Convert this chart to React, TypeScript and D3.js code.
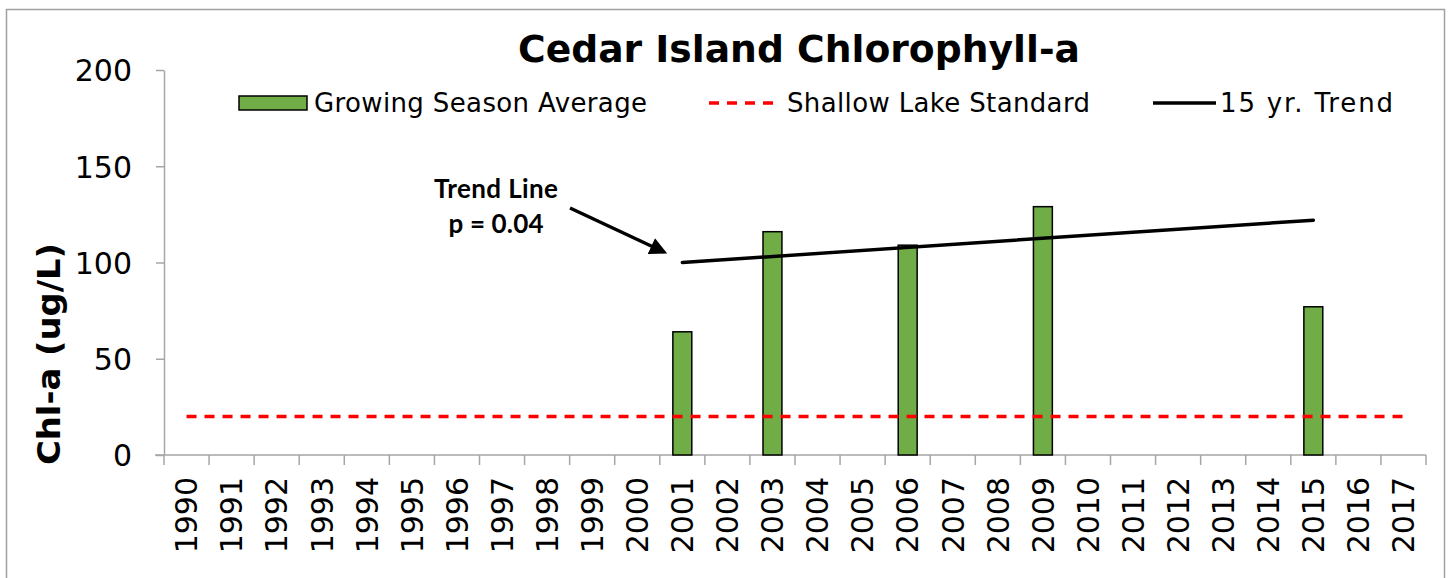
import React, { useEffect, useRef } from "react";
import * as d3 from "d3";

const years = [
  "1990", "1991", "1992", "1993", "1994", "1995", "1996", "1997", "1998", "1999",
  "2000", "2001", "2002", "2003", "2004", "2005", "2006", "2007", "2008", "2009",
  "2010", "2011", "2012", "2013", "2014", "2015", "2016", "2017",
];
const barYears = ["2001", "2003", "2006", "2009", "2015"];
const barValues = [64, 116, 109, 129, 77];
const standardValue = 20;
const trendYears = ["2001", "2015"];
const trendValues = [100, 122];
const yTicks = [0, 50, 100, 150, 200];

const W = 1452, H = 578;
const AXIS = "#a6a6a6";
const VERDANA = "'DejaVu Sans', Verdana, sans-serif";

const App = () => {
  const ref = useRef<SVGSVGElement | null>(null);

  useEffect(() => {
    const svg = d3.select(ref.current);
    svg.selectAll("*").remove();

    var x = d3.scaleBand<string>().domain(years).range([164, 1426]).padding(0);
    var y = d3.scaleLinear().domain([0, 200]).range([455, 70]);
    const cx = (d: string) => (x(d) as number) + x.bandwidth() / 2;

    // chart frame
    svg.append("rect").attr("x", 6.5).attr("y", 9.5).attr("width", 1438).attr("height", 580)
      .attr("fill", "white").attr("stroke", "#a0a0a0").attr("stroke-width", 1.5);

    // title
    svg.append("text").attr("x", 799).attr("y", 62).attr("text-anchor", "middle")
      .attr("textLength", 562).attr("lengthAdjust", "spacingAndGlyphs")
      .style("font-family", VERDANA).style("font-weight", "bold").style("font-size", "38px")
      .text("Cedar Island Chlorophyll-a");

    // y axis
    const yAxis = svg.append("g").attr("transform", "translate(164,0)")
      .call(d3.axisLeft(y).tickValues(yTicks).tickSize(8).tickSizeOuter(0).tickPadding(24));
    yAxis.select(".domain").attr("stroke", AXIS).attr("stroke-width", 1.5);
    yAxis.selectAll(".tick line").attr("stroke", AXIS).attr("stroke-width", 1.5);
    yAxis.selectAll(".tick text").attr("fill", "black")
      .style("font-family", VERDANA).style("font-size", "30px").attr("dy", "0.36em");

    svg.append("text")
      .attr("transform", "translate(60,354) rotate(-90)")
      .attr("text-anchor", "middle")
      .attr("textLength", 222).attr("lengthAdjust", "spacingAndGlyphs")
      .style("font-family", VERDANA).style("font-weight", "bold").style("font-size", "32px")
      .text("Chl-a (ug/L)");

    // x axis (ticks between categories)
    svg.append("line").attr("x1", 155).attr("x2", 1426).attr("y1", y(0)).attr("y2", y(0))
      .attr("stroke", AXIS).attr("stroke-width", 1.5);
    const bounds = years.map((d) => x(d) as number).concat([x.range()[1]]);
    svg.append("g").selectAll("line").data(bounds).join("line")
      .attr("x1", (d) => d).attr("x2", (d) => d)
      .attr("y1", y(0)).attr("y2", y(0) + 10)
      .attr("stroke", AXIS).attr("stroke-width", 1.5);
    svg.append("g").selectAll("text").data(years).join("text")
      .attr("transform", (d) => "translate(" + cx(d) + "," + (y(0) + 22) + ") rotate(-90)")
      .attr("text-anchor", "end").attr("dy", "0.36em")
      .style("font-family", VERDANA).style("font-size", "30px")
      .text((d) => d);

    // bars
    const bw = x.bandwidth() * 0.42;
    svg.append("g").selectAll("rect").data(barYears).join("rect")
      .attr("x", (d) => cx(d) - bw / 2)
      .attr("y", (d, i) => y(barValues[i]))
      .attr("width", bw)
      .attr("height", (d, i) => y(0) - y(barValues[i]))
      .attr("fill", "#70ad47").attr("stroke", "black").attr("stroke-width", 1.5);

    // standard
    svg.append("line")
      .attr("x1", cx(years[0])).attr("x2", cx(years[years.length - 1]))
      .attr("y1", y(standardValue)).attr("y2", y(standardValue))
      .attr("stroke", "#ff0000").attr("stroke-width", 3.5).attr("stroke-dasharray", "10,8");

    // trend
    const trend = d3.line<number>().x((d, i) => cx(trendYears[i])).y((d) => y(d));
    svg.append("path").datum(trendValues).attr("d", trend).attr("fill", "none")
      .attr("stroke", "black").attr("stroke-width", 3.5).attr("stroke-linecap", "round");

    // annotation
    const ann = svg.append("text").attr("text-anchor", "middle")
      .style("font-family", "Lato, 'Open Sans', sans-serif").style("font-weight", "bold").style("font-size", "26px");
    ann.append("tspan").attr("x", 496).attr("y", 198).attr("textLength", 124).text("Trend Line");
    ann.append("tspan").attr("x", 496).attr("y", 233).attr("textLength", 95).text("p = 0.04");
    svg.append("defs").append("marker").attr("id", "arr").attr("viewBox", "0 0 10 10")
      .attr("refX", 8).attr("refY", 5).attr("markerWidth", 5).attr("markerHeight", 5)
      .attr("orient", "auto").append("path").attr("d", "M0,0 L10,5 L0,10 z").attr("fill", "black");
    svg.append("line").attr("x1", 570).attr("y1", 208).attr("x2", 664).attr("y2", 252)
      .attr("stroke", "black").attr("stroke-width", 3.5).attr("marker-end", "url(#arr)");

    // legend
    const lg = svg.append("g").style("font-family", VERDANA).style("font-size", "26px");
    lg.append("rect").attr("x", 239).attr("y", 96).attr("width", 68).attr("height", 14)
      .attr("fill", "#70ad47").attr("stroke", "black").attr("stroke-width", 1.5);
    lg.append("text").attr("x", 314).attr("y", 112).attr("textLength", 333).text("Growing Season Average");
    lg.append("line").attr("x1", 709).attr("x2", 781).attr("y1", 103).attr("y2", 103)
      .attr("stroke", "#ff0000").attr("stroke-width", 3.5).attr("stroke-dasharray", "10,8");
    lg.append("text").attr("x", 787).attr("y", 112).attr("textLength", 303).text("Shallow Lake Standard");
    lg.append("line").attr("x1", 1153).attr("x2", 1216).attr("y1", 103).attr("y2", 103)
      .attr("stroke", "black").attr("stroke-width", 3.5);
    lg.append("text").attr("x", 1220).attr("y", 112).attr("textLength", 173).text("15 yr. Trend");
  }, []);

  return (
    <svg ref={ref} width={W} height={H} style={{ position: "absolute", left: 0, top: 0, background: "white" }} />
  );
};

export default App;
